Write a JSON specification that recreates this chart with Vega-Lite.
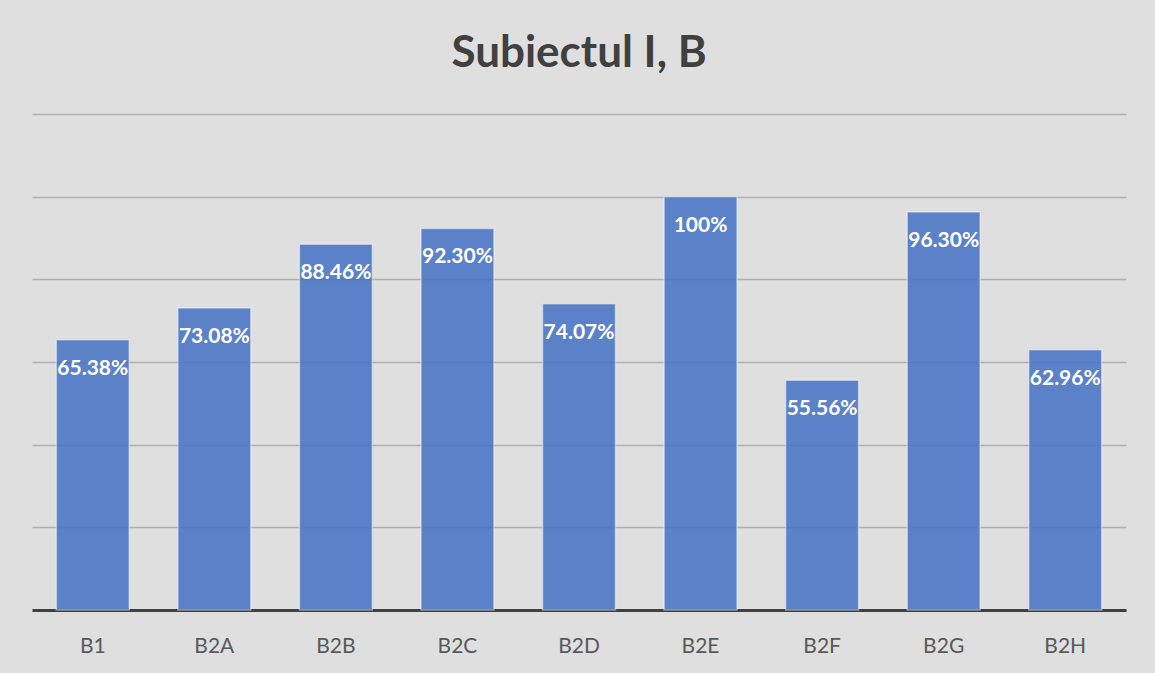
{
  "$schema": "https://vega.github.io/schema/vega-lite/v6.json",
  "width": 1094,
  "height": 496,
  "autosize": {"type": "none"},
  "padding": {"left": 32, "top": 114, "right": 29, "bottom": 63},
  "background": "#dfdfdf",
  "config": {"view": {"stroke": null}},
  "title": {
    "text": "Subiectul I, B",
    "font": "Lato",
    "fontSize": 44,
    "fontWeight": "bold",
    "color": "#404040",
    "anchor": "middle",
    "baseline": "alphabetic",
    "offset": 3
  },
  "data": {
    "values": [
      {"item": "B1", "value": 0.6538, "label": "65.38%"},
      {"item": "B2A", "value": 0.7308, "label": "73.08%"},
      {"item": "B2B", "value": 0.8846, "label": "88.46%"},
      {"item": "B2C", "value": 0.923, "label": "92.30%"},
      {"item": "B2D", "value": 0.7407, "label": "74.07%"},
      {"item": "B2E", "value": 1.0, "label": "100%"},
      {"item": "B2F", "value": 0.5556, "label": "55.56%"},
      {"item": "B2G", "value": 0.963, "label": "96.30%"},
      {"item": "B2H", "value": 0.6296, "label": "62.96%"}
    ]
  },
  "encoding": {
    "x": {
      "field": "item",
      "type": "nominal",
      "sort": null,
      "scale": {"paddingInner": 0.4, "paddingOuter": 0.2},
      "axis": {
        "title": null,
        "labelAngle": 0,
        "ticks": false,
        "domainColor": "#404040",
        "domainWidth": 3,
        "labelFont": "Lato",
        "labelFontSize": 21,
        "labelColor": "#595959",
        "labelPadding": 25
      }
    },
    "y": {
      "field": "value",
      "type": "quantitative",
      "scale": {"domain": [0, 1.2], "nice": false},
      "axis": {
        "title": null,
        "values": [0, 0.2, 0.4, 0.6, 0.8, 1.0, 1.2],
        "labels": false,
        "ticks": false,
        "domain": false,
        "grid": true,
        "gridColor": "#b0b0b0",
        "gridWidth": 1.5
      }
    }
  },
  "layer": [
    {
      "mark": {
        "type": "bar",
        "color": "#4472c4",
        "opacity": 0.85,
        "stroke": "#ffffff",
        "strokeOpacity": 0.5,
        "strokeWidth": 1.5
      }
    },
    {
      "mark": {
        "type": "text",
        "align": "center",
        "baseline": "top",
        "dy": 18,
        "color": "#ffffff",
        "font": "Lato",
        "fontSize": 21,
        "fontWeight": "bold"
      },
      "encoding": {"text": {"field": "label"}}
    }
  ]
}
